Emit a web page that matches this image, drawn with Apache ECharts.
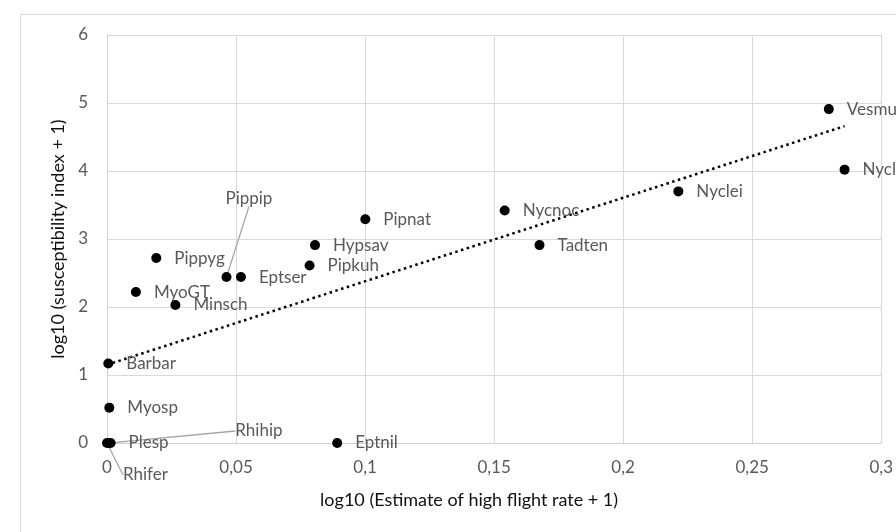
<!DOCTYPE html>
<html>
<head>
<meta charset="utf-8">
<script src="https://cdn.jsdelivr.net/npm/echarts@6/dist/echarts.min.js"></script>
<style>
  html, body { margin: 0; padding: 0; background: #fff; }
  #chart { width: 896px; height: 532px; }
</style>
</head>
<body>
<div id="chart"></div>
<script>
// species codes and their values
var species = ['Vesmur', 'Nyclas', 'Nyclei', 'Nycnoc', 'Tadten', 'Pipnat', 'Hypsav', 'Pipkuh',
  'Pippip', 'Eptser', 'Pippyg', 'MyoGT', 'Minsch', 'Barbar', 'Myosp', 'Rhifer', 'Rhihip', 'Plesp', 'Eptnil']
var flightRate = [0.2797, 0.2858, 0.2214, 0.1541, 0.1676, 0.1001, 0.0806, 0.0785,
  0.0463, 0.0519, 0.0191, 0.0112, 0.0265, 0.0005, 0.0009, 0.0, 0.0005, 0.0014, 0.0892]
var susceptibility = [4.91, 4.02, 3.70, 3.42, 2.91, 3.29, 2.91, 2.61,
  2.44, 2.44, 2.72, 2.22, 2.03, 1.17, 0.52, 0.0, 0.0, 0.0, 0.0]
// linear trendline end points
var trendX = [0, 0.2858]
var trendY = [1.15, 4.66]

// labels pulled away from their point with a leader line
var labelShift = {
  Pippip: [-19, -79],
  Rhihip: [109, -12],
  Rhifer: [-2, 32]
}

var comma = function(v) { return String(v).replace('.', ',') }

var points = species.map(function(name, i) {
  var item = { name: name, value: [flightRate[i], susceptibility[i]] }
  if (labelShift[name]) {
    item.labelLine = { show: true, lineStyle: { color: '#a6a6a6', width: 1.3 } }
  }
  return item
})

var chart = echarts.init(document.getElementById('chart'))
chart.setOption({
  animation: false,
  textStyle: { fontFamily: 'Lato' },
  graphic: [{
    type: 'rect',
    left: 18,
    top: 12,
    shape: { width: 900, height: 540 },
    style: { fill: 'none', stroke: '#d9d9d9', lineWidth: 1 },
    silent: true
  }],
  grid: { left: 107, right: 9, top: 35, bottom: 89 },
  xAxis: {
    type: 'value',
    min: 0,
    max: 0.3,
    interval: 0.05,
    name: 'log10 (Estimate of high flight rate + 1)',
    nameLocation: 'middle',
    nameGap: 48,
    nameTextStyle: { color: '#111', fontSize: 18, padding: [0, 50, 0, 0] },
    axisLine: { lineStyle: { color: '#d0d0d0', width: 1 } },
    axisTick: { show: false },
    axisLabel: { color: '#595959', fontSize: 17, margin: 16, formatter: comma },
    splitLine: { show: true, lineStyle: { color: '#d9d9d9', width: 1 } }
  },
  yAxis: {
    type: 'value',
    min: 0,
    max: 6,
    interval: 1,
    name: 'log10 (susceptibility index + 1)',
    nameLocation: 'middle',
    nameGap: 37,
    nameTextStyle: { color: '#111', fontSize: 18 },
    axisLine: { show: true, lineStyle: { color: '#d0d0d0', width: 1 } },
    axisTick: { show: false },
    axisLabel: { color: '#595959', fontSize: 17, margin: 19, formatter: comma },
    splitLine: { show: true, lineStyle: { color: '#d9d9d9', width: 1 } }
  },
  series: [
    {
      type: 'line',
      data: trendX.map(function(x, i) { return [x, trendY[i]] }),
      symbol: 'none',
      z: 1,
      lineStyle: { color: '#000', width: 2.5, type: [2.5, 3.5] }
    },
    {
      type: 'scatter',
      data: points,
      symbolSize: 10,
      z: 3,
      itemStyle: { color: '#000', opacity: 1 },
      label: {
        show: true,
        position: 'right',
        distance: 13,
        formatter: '{b}',
        color: '#595959',
        fontSize: 17
      },
      labelLayout: function(params) {
        var name = species[params.dataIndex]
        var s = labelShift[name]
        if (!s) return {}
        return { dx: s[0], dy: s[1] }
      }
    }
  ]
})
</script>
</body>
</html>
